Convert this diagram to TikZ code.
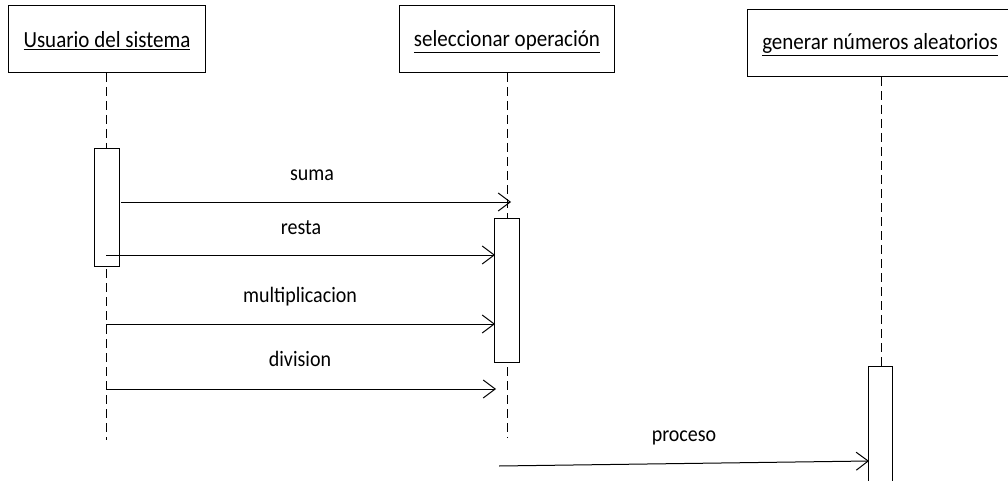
\documentclass[tikz,border=0pt]{standalone}
\usepackage{fontspec}
\setmainfont{Carlito}
\usetikzlibrary{arrows.meta}
\newcommand{\talltext}[1]{\scalebox{1}[1.1]{#1}}
\begin{document}
\begin{tikzpicture}[x=1pt,y=-1pt,
  objbox/.style={draw,line width=1pt,fill=white},
  hdrtext/.style={anchor=base,inner sep=0pt,font=\fontsize{21}{24}\selectfont},
  msgtext/.style={anchor=base,inner sep=0pt,font=\fontsize{20}{24}\selectfont},
  lifeline/.style={line width=1pt,dash pattern=on 9pt off 5pt},
  actbox/.style={draw,line width=1pt,fill=white},
  msg/.style={line width=1pt,-{Straight Barb[length=12pt,width=18pt,line width=1pt]}}]
\clip (0,0) rectangle (1008,481);
\useasboundingbox (0,0) rectangle (1008,481);

% object headers
\draw[objbox] (8,6) rectangle (205,73);
\draw[objbox] (399,6) rectangle (614,73);
\draw[objbox] (747,10) rectangle (1020,77);
\node[hdrtext] (u) at (107,48) {\talltext{\underline{Usuario del sistema}}};
\node[hdrtext] (s) at (507,47) {\talltext{\underline{seleccionar operación}}};
\node[hdrtext] (g) at (880,50) {\talltext{\underline{generar números aleatorios}}};

% lifelines
\coordinate (u0) at (106,73);
\coordinate (u1) at (106,440);
\coordinate (s0) at (507,73);
\coordinate (s1) at (507,438);
\coordinate (g0) at (881,77);
\coordinate (g1) at (881,366);
\draw[lifeline] (u0) -- (u1);
\draw[lifeline] (s0) -- (s1);
\draw[lifeline] (g0) -- (g1);

% activation bars
\draw[actbox] (94,149) rectangle (119,266);
\draw[actbox] (494,218) rectangle (519,362);
\draw[actbox] (868,366) rectangle (892,500);

% messages
\coordinate (a1) at (121,202);  \coordinate (b1) at (511,202);
\coordinate (a2) at (106,255);  \coordinate (b2) at (495,255);
\coordinate (a3) at (106,324);  \coordinate (b3) at (495,324);
\coordinate (a4) at (106,389);  \coordinate (b4) at (496,389);
\coordinate (a5) at (499,466);  \coordinate (b5) at (869,461);
\draw[msg] (a1) -- (b1);
\draw[msg] (a2) -- (b2);
\draw[msg] (a3) -- (b3);
\draw[msg] (a4) -- (b4);
\draw[msg] (a5) -- (b5);

\node[msgtext] (m1) at (312,180) {\talltext{suma}};
\node[msgtext] (m2) at (301,234) {\talltext{resta}};
\node[msgtext] (m3) at (300,302) {\talltext{multiplicacion}};
\node[msgtext] (m4) at (300,366) {\talltext{division}};
\node[msgtext] (m5) at (684,441) {\talltext{proceso}};
\end{tikzpicture}
\end{document}
